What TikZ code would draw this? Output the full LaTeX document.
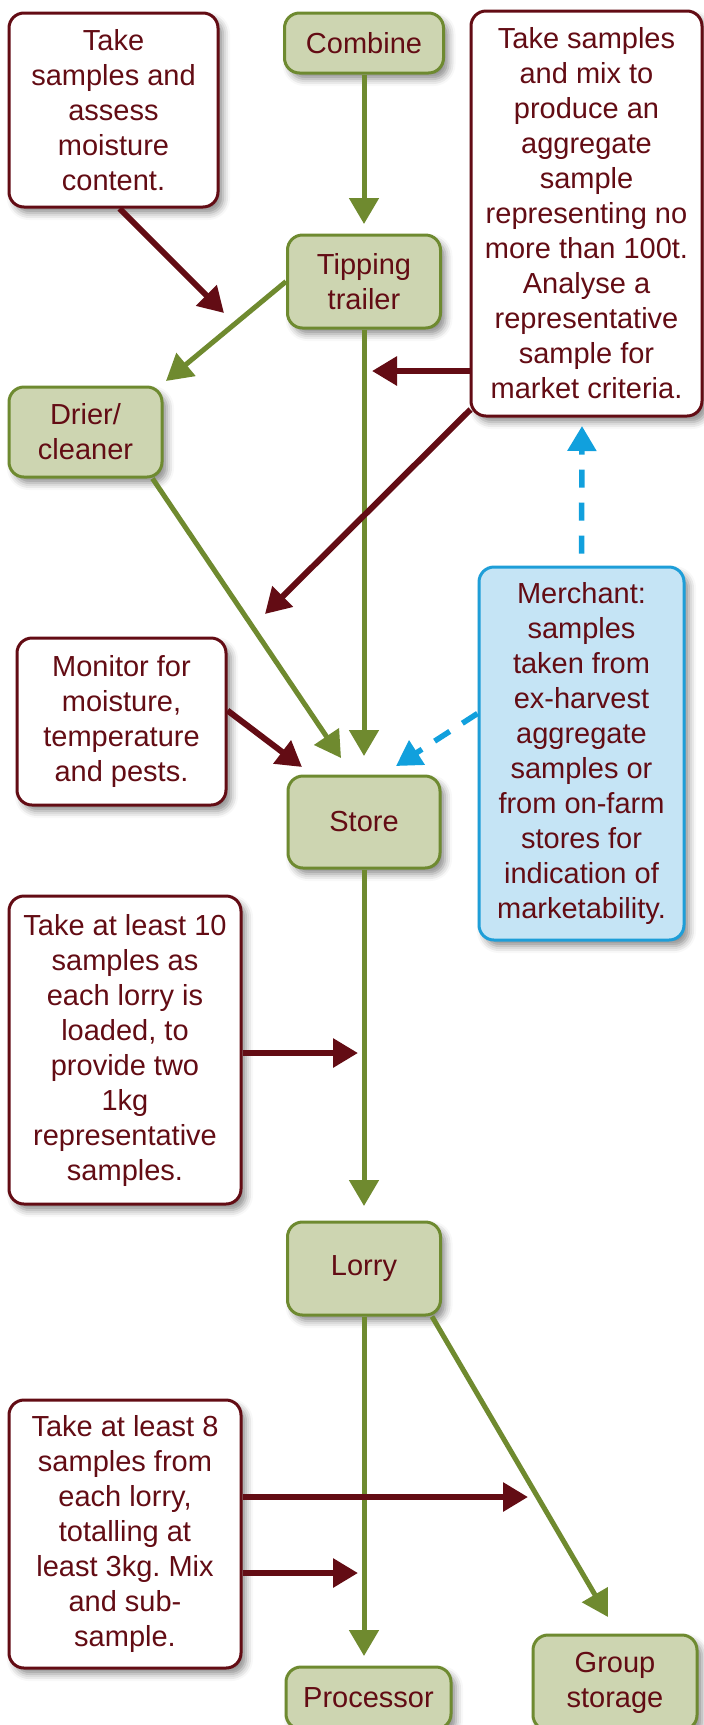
\documentclass[tikz,border=0pt]{standalone}
\usepackage{fontspec}
\setmainfont{Liberation Sans}
\usetikzlibrary{arrows.meta,shadows.blur}
\frenchspacing

\definecolor{txtred}{HTML}{630C14}
\definecolor{gfill}{HTML}{CDD5B1}
\definecolor{gborder}{HTML}{6E8A30}
\definecolor{garrow}{HTML}{6F8A2F}
\definecolor{bfill}{HTML}{C5E4F5}
\definecolor{bborder}{HTML}{1E9ED8}
\definecolor{barrow}{HTML}{11A0DD}

\tikzset{
  box/.style={rounded corners=15pt, line width=3pt, align=center, text=txtred,
    font=\fontsize{29}{35}\selectfont, inner sep=0pt,
    blur shadow={shadow xshift=5pt, shadow yshift=-6pt, shadow blur radius=7pt, shadow opacity=45}},
  note/.style={box, draw=txtred, fill=white},
  stage/.style={box, draw=gborder, fill=gfill},
  merch/.style={box, draw=bborder, fill=bfill},
  redarrow/.style={draw=txtred, line width=6pt, -{Triangle[length=25pt,width=28pt]}},
  greenarrow/.style={draw=garrow, line width=5pt, -{Triangle[length=26pt,width=29pt]}},
  bluearrow/.style={draw=barrow, line width=5.5pt, dash pattern=on 18pt off 15pt,
    -{Triangle[length=25pt,width=28pt]}},
}

\begin{document}
\begin{tikzpicture}[x=1pt, y=-1pt]
\useasboundingbox (0,0) rectangle (704,1725);

% stages of the grain chain
\node[stage, minimum width=159pt, minimum height=60pt] (comb) at (364,43) {Combine};
\node[stage, minimum width=153pt, minimum height=93pt] (tipp) at (364,281.5) {Tipping\\trailer};
\node[stage, minimum width=153pt, minimum height=90pt] (drier) at (85.5,432) {Drier/\\cleaner};
\node[stage, minimum width=152pt, minimum height=92pt] (store) at (364,822) {Store};
\node[stage, minimum width=153pt, minimum height=93pt] (lorry) at (364,1268.5) {Lorry};
\node[stage, minimum width=165pt, minimum height=62pt] (proc) at (368.5,1698) {Processor};
\node[stage, minimum width=164pt, minimum height=95pt] (group) at (615,1682.5) {Group\\storage};

% sampling notes
\node[note, minimum width=209pt, minimum height=194pt] (na) at (113.5,110)
  {Take\\samples and\\assess\\moisture\\content.};
\node[note, minimum width=231pt, minimum height=405pt] (nb) at (586.5,213.5)
  {Take samples\\and mix to\\produce an\\aggregate\\sample\\representing no\\more than 100t.\\Analyse a\\representative\\sample for\\market criteria.};
\node[note, minimum width=209pt, minimum height=167pt] (nmon) at (121.5,721.5)
  {Monitor for\\moisture,\\temperature\\and pests.};
\node[note, minimum width=232pt, minimum height=308pt] (nten) at (125,1050)
  {Take at least 10\\samples as\\each lorry is\\loaded, to\\provide two\\1kg\\representative\\samples.};
\node[note, minimum width=232pt, minimum height=268pt] (neight) at (125,1534)
  {Take at least 8\\samples from\\each lorry,\\totalling at\\least 3kg. Mix\\and sub-\\sample.};
\node[merch, minimum width=205pt, minimum height=373pt] (merch) at (581.5,753.5)
  {Merchant:\\samples\\taken from\\ex-harvest\\aggregate\\samples or\\from on-farm\\stores for\\indication of\\marketability.};

% free ends of the connectors
\coordinate (t1) at (364,224);
\coordinate (t2) at (224,313);
\coordinate (t3) at (166,381);
\coordinate (t4) at (372,371);
\coordinate (t5) at (265,614);
\coordinate (t6) at (582,426);
\coordinate (t7) at (396,766);
\coordinate (t8) at (341,758);
\coordinate (t9) at (364,756);
\coordinate (t10) at (302,767);
\coordinate (t11) at (364,1206);
\coordinate (t12) at (358,1053);
\coordinate (t13) at (364,1656);
\coordinate (t14) at (608,1617);
\coordinate (t15) at (528,1497);
\coordinate (t16) at (358,1573);

% grain flow
\draw[greenarrow] (comb.south) -- (t1);
\draw[greenarrow] (tipp.west) -- (t3);
\draw[greenarrow] (tipp.south) -- (t9);
\draw[greenarrow] ([shift={(-11,0)}]drier.south east) -- (t8);
\draw[greenarrow] (store.south) -- (t11);
\draw[greenarrow] (lorry.south) -- (t13);
\draw[greenarrow] ([shift={(-10,0)}]lorry.south east) -- (t14);

% sampling points
\draw[redarrow] ([shift={(6,0)}]na.south) -- (t2);
\draw[redarrow] (nb.west |- t4) -- (t4);
\draw[redarrow] ([shift={(1,-8)}]nb.south west) -- (t5);
\draw[redarrow] ([shift={(0,-11)}]nmon.east) -- (t10);
\draw[redarrow] (nten.east |- t12) -- (t12);
\draw[redarrow] (neight.east |- t15) -- (t15);
\draw[redarrow] (neight.east |- t16) -- (t16);

% merchant links
\draw[bluearrow] ([shift={(0,-12)}]merch.north) -- (t6);
\draw[bluearrow] ([shift={(0,-40)}]merch.west) -- (t7);
\end{tikzpicture}
\end{document}
